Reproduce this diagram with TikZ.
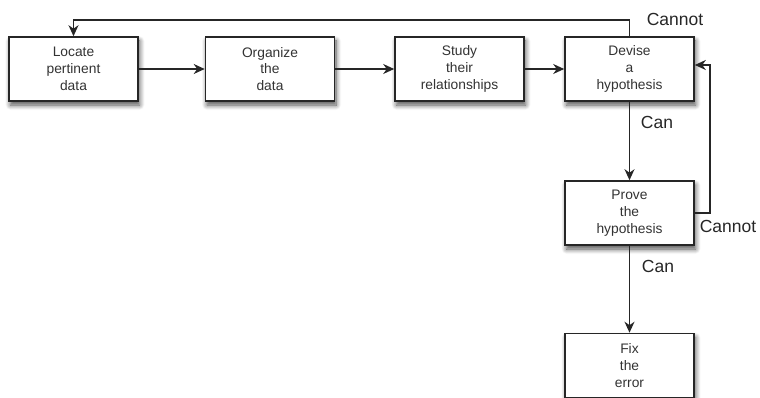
\documentclass[tikz,border=0pt]{standalone}
\usepackage{fontspec}
\setmainfont{Liberation Sans}
\usetikzlibrary{arrows.meta,shadows.blur}
\begin{document}
\begin{tikzpicture}[x=1pt,y=1pt,
  box/.style={draw=black!85, line width=1.6pt, fill=white, minimum width=129pt, minimum height=64pt,
    inner sep=0pt, align=center, font=\fontsize{13.8}{16.7}\selectfont, text=black!80,
    blur shadow={shadow xshift=1.5pt, shadow yshift=-4pt, shadow blur radius=5pt, shadow blur steps=8, shadow opacity=70}},
  conn/.style={draw=black!85, line width=1.4pt, -{Stealth[length=11pt,width=10pt,inset=3.5pt]}},
  lab/.style={font=\fontsize{17.5}{20}\selectfont, text=black!85}]
\useasboundingbox (0,0) rectangle (760,-398);
\node[box] (loc) at (73.5,-69) {Locate\\pertinent\\data};
\node[box] (org) at (270,-69) {Organize\\the\\data};
\node[box] (stu) at (459.5,-69) {Study\\their\\relationships};
\node[box] (dev) at (629.5,-69) {Devise\\a\\hypothesis};
\node[box] (pro) at (629.5,-213) {Prove\\the\\hypothesis};
\node[box] (fix) at (629.5,-365.5) {Fix\\the\\error};
\draw[conn] (loc) -- (org);
\draw[conn] (org) -- (stu);
\draw[conn] (stu) -- (dev);
\draw[conn] (dev) -- (pro);
\draw[conn] (pro) -- (fix);
\coordinate (top) at (0,-20);
\draw[conn] (dev.north) -- (dev.north |- top) -- (loc.north |- top) -- (loc.north);
\coordinate (rx) at (710,0);
\draw[conn] (pro.east) -- (pro.east -| rx) -- ([yshift=4pt]dev.east -| rx) -- ([yshift=4pt]dev.east);
\node[lab] (l1) at (675,-19) {Cannot};
\node[lab] (l2) at (657,-122) {Can};
\node[lab] (l3) at (728,-226) {Cannot};
\node[lab] (l4) at (658,-266) {Can};
\end{tikzpicture}
\end{document}
